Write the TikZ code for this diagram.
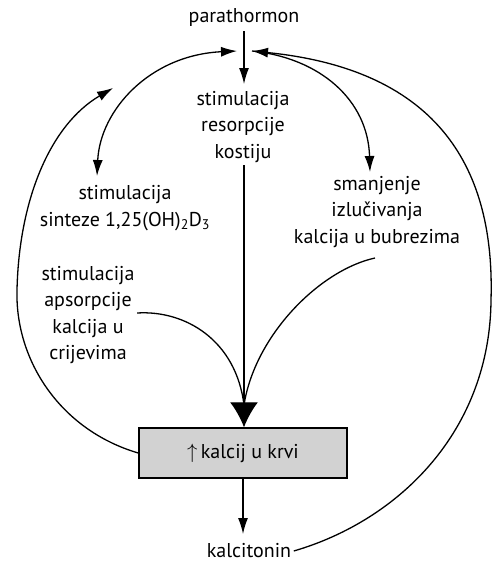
\documentclass[tikz,border=0pt]{standalone}
\usepackage{fontspec}
\setmainfont{PT Sans}
\usetikzlibrary{arrows.meta}

\begin{document}
\begin{tikzpicture}[x=1pt, y=-1pt, line width=1.3pt]
	\tikzset{
		txt/.style={align=center, inner sep=2pt, font=\fontsize{20}{26.5}\selectfont},
		arr/.style={-{Latex[length=16pt, width=10pt]}},
		twoarr/.style={{Latex[length=16pt, width=10pt]}-{Latex[length=16pt, width=10pt]}},
		bigarr/.style={-{Latex[length=25pt, width=28pt]}},
		calbox/.style={draw, line width=1.5pt, fill=gray!35, minimum width=208pt, minimum height=50pt, inner sep=0pt}
	}
	\useasboundingbox (0,0) rectangle (493,562);
	
	% tekstovi
	\node[txt] (pth) at (244,18) {parathormon};
	\node[txt] (res) at (243,127) {stimulacija\\resorpcije\\kostiju};
	\node[txt] (sin) at (125,208) {stimulacija\\sinteze 1,25(OH)\textsubscript{2}D\textsubscript{3}};
	\node[txt] (izl) at (377,212) {smanjenje\\izlučivanja\\kalcija u bubrezima};
	\node[txt] (aps) at (88,315) {stimulacija\\apsorpcije\\kalcija u\\crijevima};
	\node[calbox, font=\fontsize{20}{22}\selectfont] (ca) at (243,453) {$\uparrow$\,kalcij u krvi};
	\node[txt] (kal) at (249,551) {kalcitonin};
	
	\coordinate (pL) at (237,51);
	\coordinate (pR) at (252,51);
	\coordinate (mrg) at (244,405);
	
	% parathormon -> resorpcija
	\draw[arr] (244,31) -- (244,84);
	\draw[bigarr] (244,165) -- (ca.north -| 244,0);
	
	% crijeva i bubrezi -> kalcij
	\draw (aps.east |- 0,313) .. controls (185,310) and (236,340) .. (mrg);
	\draw (375,258) .. controls (320,270) and (255,335) .. (mrg);
	
	% sinteza
	\draw[twoarr] (pL) .. controls (150,55) and (100,110) .. (97,176);
	
	% lijeva petlja
	\draw[arr] (ca.west) .. controls (60,430) and (15,360) .. (17,290)
		.. controls (19,200) and (50,125) .. (113,88);
	
	% kalcitonin
	\draw[arr] (kal.east) .. controls (400,520) and (490,430) .. (491,300)
		.. controls (495,170) and (440,70) .. (pR);
	\draw[arr] (pR) .. controls (320,58) and (368,100) .. (370,172);
	
	% kalcij -> kalcitonin
	\draw[arr] (ca.south -| 243,0) -- (243,534);
\end{tikzpicture}
\end{document}
